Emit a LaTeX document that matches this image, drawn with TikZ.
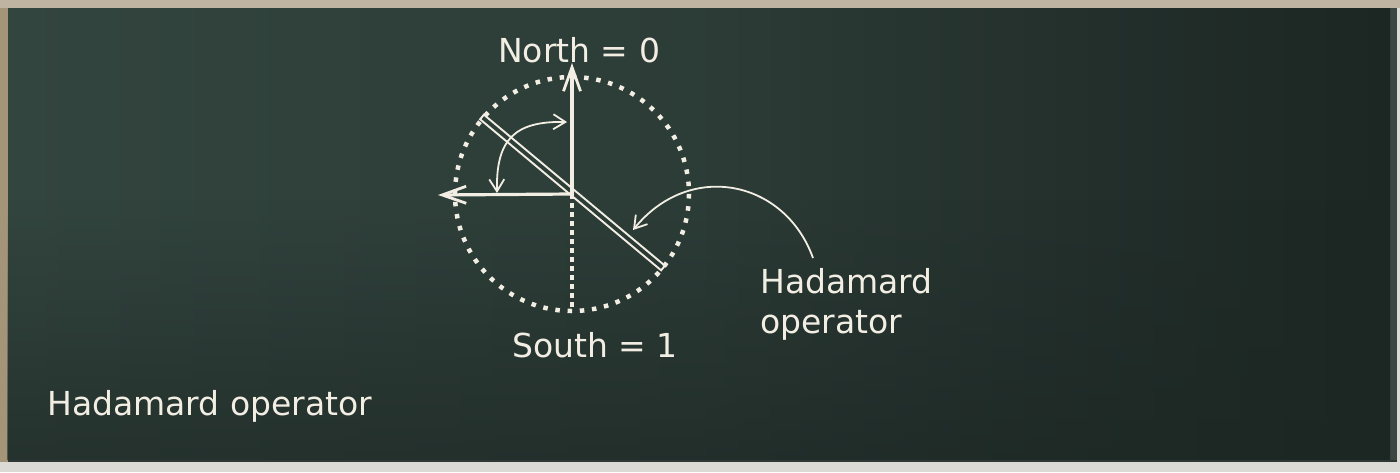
\documentclass[tikz,border=0pt]{standalone}
\usepackage{fontspec}
\setmainfont{DejaVu Sans}
\usetikzlibrary{arrows.meta,fadings}
\definecolor{chalk}{HTML}{F2EEE4}
\definecolor{boardA}{HTML}{33453F}
\definecolor{boardB}{HTML}{1C2623}
\definecolor{frametop}{HTML}{BFB3A1}
\definecolor{frameleft}{HTML}{A59578}
\definecolor{framebot}{HTML}{DCDAD4}
\definecolor{frameright}{HTML}{3A4743}
\tikzset{
  chalktext/.style={text=chalk, inner sep=0pt, font=\fontsize{33}{37}\selectfont},
  axisarrow/.style={draw=chalk, line width=3.2pt, -{Straight Barb[length=24pt,width=17pt,line width=2.8pt]}},
  thinarrow/.style={draw=chalk, line width=1.8pt},
  dotcircle/.style={draw=chalk, line width=4.5pt, dash pattern=on 4.5pt off 7.75pt},
  dotline/.style={draw=chalk, line width=4.5pt, dash pattern=on 4.5pt off 4.5pt},
  gate/.style={draw=chalk, line width=1.9pt, line join=miter},
  chalkbarb/.tip={Straight Barb[length=12pt,width=15pt,line width=1.8pt]}
}
\begin{document}
\begin{tikzpicture}[x=1pt,y=-1pt]
\useasboundingbox (0,0) rectangle (1400,472);
% frame
\fill[framebot] (0,0) rectangle (1400,472);
\fill[frametop] (0,0) rectangle (1400,8);
\fill[frameleft] (0,8) rectangle (8,462);
\fill[frameright] (1390,8) rectangle (1397,462);
\fill[left color=boardA, right color=boardB, middle color=boardA!70!boardB] (8,8) rectangle (1390,460);
\fill[boardB, opacity=0.6, path fading=north] (8,200) rectangle (1390,460);
\fill[frameright!80!black] (8,460) rectangle (1397,462);
% geometry
\coordinate (C) at (572,194);
\coordinate (N) at (572,63);
\coordinate (W) at (438,195);
\coordinate (S) at (572,311);
\coordinate (A1) at (480.1,119.3);
\coordinate (B1) at (661.1,270.3);
\coordinate (B2) at (664.9,265.7);
\coordinate (A2) at (483.9,114.7);
\coordinate (RW) at (497,193);
\coordinate (RN) at (567,122);
\coordinate (L0) at (813,258);
\coordinate (L1) at (633,230);
% dotted circle and south line
\draw[dotcircle] (C) circle (117);
\draw[dotline] (C) -- (S);
% Hadamard gate line
\draw[gate] (A1) -- (B1) -- (B2) -- (A2) -- cycle;
% axes
\draw[axisarrow] (C) -- (N);
\draw[axisarrow] (C) -- (W);
% rotation arrow
\draw[thinarrow, chalkbarb-chalkbarb] (RW) .. controls (496,140) and (514,121) .. (RN);
% label arrow
\draw[thinarrow, -chalkbarb] (L0) .. controls (785,180) and (690,160) .. (L1);
% texts
\node[chalktext, anchor=base west] (north) at (498,62) {North = 0};
\node[chalktext, anchor=base west] (south) at (512,357) {South = 1};
\node[chalktext, anchor=base west] (had) at (760,293) {Hadamard};
\node[chalktext, anchor=base west] (op) at (760,333) {operator};
\node[chalktext, anchor=base west] (caption) at (47,415) {Hadamard operator};
\end{tikzpicture}
\end{document}
